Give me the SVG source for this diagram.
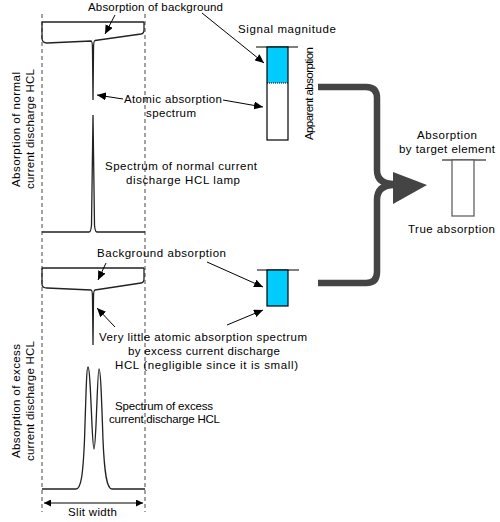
<svg xmlns="http://www.w3.org/2000/svg" width="500" height="522" viewBox="0 0 500 522">
<style>
text{font-family:"Liberation Sans",Arial,sans-serif;font-size:11.5px;fill:#000}
.dash{stroke:#666;stroke-width:1.2;stroke-dasharray:4 3;fill:none}
.trace{stroke:#222;stroke-width:1.3;fill:none}
.arr{stroke:#000;stroke-width:1;fill:none;marker-end:url(#ah)}
.bar{stroke:#000;stroke-width:1.2}
.brace{stroke:#444;stroke-width:6.5;fill:none;stroke-linecap:butt}
</style>
<defs>
<marker id="ah" markerUnits="userSpaceOnUse" markerWidth="10" markerHeight="8" refX="9" refY="4" orient="auto">
<path d="M0,0 L9,4 L0,8 Z" fill="#000"/>
</marker>
<marker id="sa" markerUnits="userSpaceOnUse" markerWidth="8" markerHeight="7" refX="7" refY="3.5" orient="auto-start-reverse">
<path d="M0,0 L7,3.5 L0,7 Z" fill="#000"/>
</marker>
</defs>
<rect width="500" height="522" fill="#fff"/>
<g id="slit-lines">
<line class="dash" x1="42" y1="14" x2="42" y2="512"/>
<line class="dash" x1="145" y1="14" x2="145" y2="512"/>
</g>
<g id="normal-absorption">
<path class="trace" d="M42,22 H144 M42,22 V38 Q42,43 47,43 L91,41 Q92.5,41 92.5,50 L93,100 L93.5,50 Q93.5,40.5 95,40.5 L141,34 Q144,33.5 144,30 V22"/>
</g>
<g id="normal-spectrum">
<path class="trace" d="M42,232 H89 Q91,232 91.5,225 L93,115 L94.5,225 Q95,232 97,232 H145"/>
</g>
<g id="excess-absorption">
<path class="trace" d="M42,268 H144 M42,268 V284 Q42,288 47,288 L91,290 Q92.5,290 92.5,298 L93,345 L93.5,298 Q93.5,290 95,290 L141,283 Q144,282.5 144,279 V268"/>
</g>
<g id="excess-spectrum">
<path class="trace" d="M42,489 H76 C81,489 83,475 84.5,440 C86,395 86.5,367 88,367 C89.5,367 90.5,390 92,425 C93,445 93.5,449 94,449 C94.5,449 95,445 96,425 C97.5,390 98,369 99,369 C100.5,369 101.5,395 103,440 C104.5,475 107,489 112,489 H145"/>
</g>
<g id="slit-width">
<line x1="44" y1="503" x2="143" y2="503" stroke="#000" stroke-width="1" marker-start="url(#sa)" marker-end="url(#sa)"/>
<text x="68" y="516" textLength="49" lengthAdjust="spacing">Slit width</text>
</g>
<g id="left-labels">
<text transform="translate(20,187) rotate(-90)" textLength="115" lengthAdjust="spacing">Absorption of normal</text>
<text transform="translate(34,189) rotate(-90)" textLength="120" lengthAdjust="spacing">current discharge HCL</text>
<text transform="translate(20,458) rotate(-90)" textLength="114" lengthAdjust="spacing">Absorption of excess</text>
<text transform="translate(34,461) rotate(-90)" textLength="120" lengthAdjust="spacing">current discharge HCL</text>
</g>
<g id="labels">
<text x="88" y="11" textLength="135" lengthAdjust="spacing">Absorption of background</text>
<text x="238" y="33" textLength="98" lengthAdjust="spacing">Signal magnitude</text>
<text x="124" y="103" textLength="98" lengthAdjust="spacing">Atomic absorption</text>
<text x="146" y="117" textLength="50" lengthAdjust="spacing">spectrum</text>
<text x="105" y="170" textLength="152" lengthAdjust="spacing">Spectrum of normal current</text>
<text x="126" y="184" textLength="114" lengthAdjust="spacing">discharge HCL lamp</text>
<text x="97" y="257" textLength="129" lengthAdjust="spacing">Background absorption</text>
<text x="99" y="341" textLength="208" lengthAdjust="spacing">Very little atomic absorption spectrum</text>
<text x="128" y="355" textLength="152" lengthAdjust="spacing">by excess current discharge</text>
<text x="115" y="369" textLength="183" lengthAdjust="spacing">HCL (negligible since it is small)</text>
<text x="115" y="410" textLength="98" lengthAdjust="spacing">Spectrum of excess</text>
<text x="109" y="423" textLength="111" lengthAdjust="spacing">current discharge HCL</text>
<text transform="translate(313,140) rotate(-90)" textLength="93" lengthAdjust="spacing">Apparent absorption</text>
</g>
<g id="connectors">
<line class="arr" x1="115" y1="15" x2="105" y2="34"/>
<line class="arr" x1="202" y1="13" x2="264" y2="63"/>
<line class="arr" x1="123" y1="99" x2="97" y2="95"/>
<line class="arr" x1="223" y1="100" x2="263" y2="107"/>
<line class="arr" x1="106" y1="263" x2="98" y2="280"/>
<line class="arr" x1="207" y1="262" x2="263" y2="287"/>
<line class="arr" x1="115" y1="327" x2="97" y2="308"/>
<line class="arr" x1="227" y1="325" x2="263" y2="310"/>
<path class="brace" d="M318,87 H366 Q377,87 377,98 V170 Q377,184 394,184"/>
<path class="brace" d="M318,283 H366 Q377,283 377,272 V200 Q377,185 394,185"/>
<polygon points="393,172 427,185 393,204" fill="#444"/>
</g>
<g id="apparent-bar">
<line class="bar" x1="256" y1="47" x2="298" y2="47"/>
<rect x="267" y="47" width="21" height="36" fill="#00ccff"/>
<rect x="267" y="47" width="21" height="93" fill="none" stroke="#000" stroke-width="1.2"/>
<line x1="267" y1="83" x2="288" y2="83" stroke="#000" stroke-width="1" stroke-dasharray="1 1"/>
</g>
<g id="background-bar">
<line class="bar" x1="257" y1="270" x2="299" y2="270"/>
<rect x="267" y="270" width="21" height="36" fill="#00ccff" stroke="#000" stroke-width="1.2"/>
</g>
<g id="true-bar">
<text x="417" y="139" textLength="60" lengthAdjust="spacing">Absorption</text>
<text x="399" y="153" textLength="96" lengthAdjust="spacing">by target element</text>
<line x1="442" y1="160" x2="486" y2="160" stroke="#000" stroke-width="1.2"/>
<rect x="452" y="160" width="22" height="56" fill="#fff" stroke="#555" stroke-width="1.2"/>
<text x="408" y="233" textLength="87" lengthAdjust="spacing">True absorption</text>
</g>
</svg>
